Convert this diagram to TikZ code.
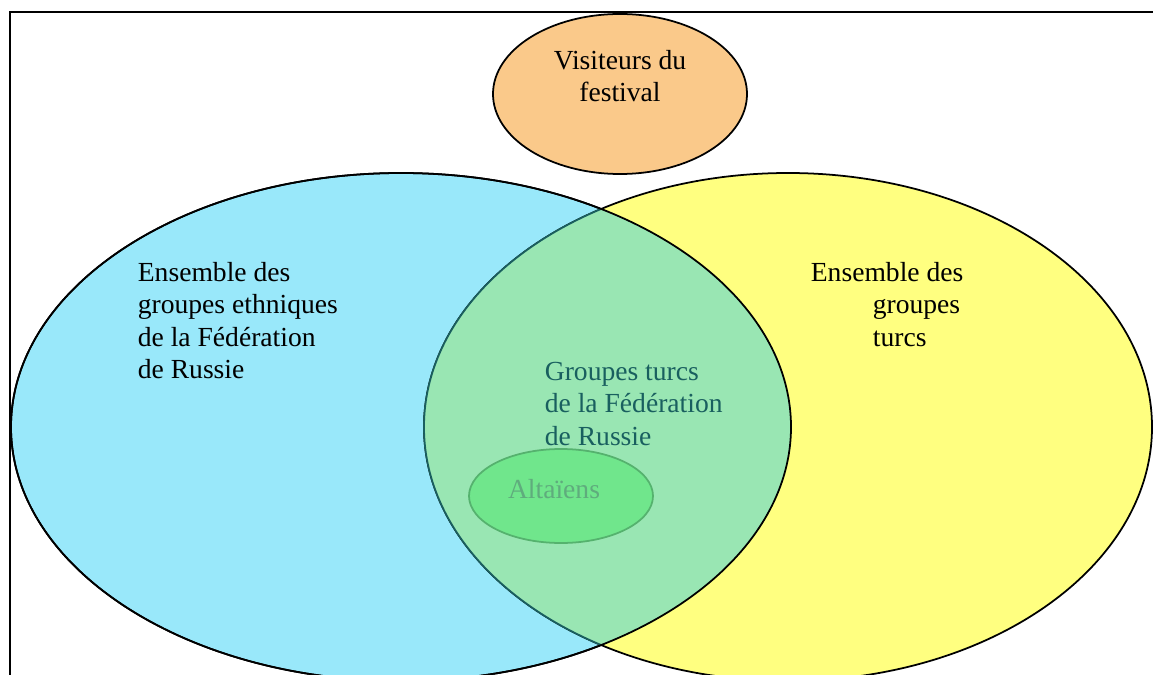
\documentclass[tikz,border=0pt]{standalone}
\usepackage{fontspec}
\setmainfont{Liberation Serif}
\definecolor{ethnicblue}{RGB}{153,232,250}
\definecolor{turkyellow}{RGB}{255,255,128}
\definecolor{overlapgreen}{RGB}{153,230,179}
\definecolor{overlapedge}{RGB}{25,95,95}
\definecolor{visitorange}{RGB}{250,201,138}
\definecolor{altaigreen}{RGB}{112,230,140}
\definecolor{altaiedge}{RGB}{85,178,110}
\definecolor{altaitext}{RGB}{95,172,125}
\usetikzlibrary{positioning}

\begin{document}
\begin{tikzpicture}[x=0.02cm,y=-0.02cm,line width=1pt,
    settext/.style={font=\fontsize{15.7}{18.5}\selectfont,align=left,anchor=north west,inner sep=0pt}]
                \useasboundingbox (0,0) rectangle (1153,675);
                \clip (0,0) rectangle (1153,675);

                % the two big sets
                \draw[fill=ethnicblue] (401,427) ellipse [x radius=390, y radius=254];
                \draw[fill=turkyellow] (788,427) ellipse [x radius=364, y radius=254];
                \begin{scope}
                    \clip (401,427) ellipse [x radius=390, y radius=254];
                    \draw[fill=overlapgreen, draw=overlapedge] (788,427) ellipse [x radius=364, y radius=254];
                \end{scope}
                \draw (401,427) ellipse [x radius=390, y radius=254];

                \draw[fill=visitorange] (620,94) ellipse [x radius=127, y radius=80];
                \draw[fill=altaigreen, draw=altaiedge] (561,496) ellipse [x radius=92, y radius=47];

                \node[settext] (ethnic) at (137,261) {Ensemble des\\groupes ethniques\\de la Fédération\\de Russie};
                \node[settext] (turk) at (810,261) {Ensemble des\\\hspace*{1.24cm}groupes\\\hspace*{1.24cm}turcs};
                \node[settext, text=overlapedge] (both) at (544,361) {Groupes turcs\\de la Fédération\\de Russie};
                \node[settext, anchor=center, text=altaitext] (altai) at (554,489) {Altaïens};
                \node[settext, anchor=center, align=center] (visitors) at (620,76) {Visiteurs du\\festival};

                \draw (10,675) -- (10,12) -- (1153,12);
            \end{tikzpicture}
\end{document}
